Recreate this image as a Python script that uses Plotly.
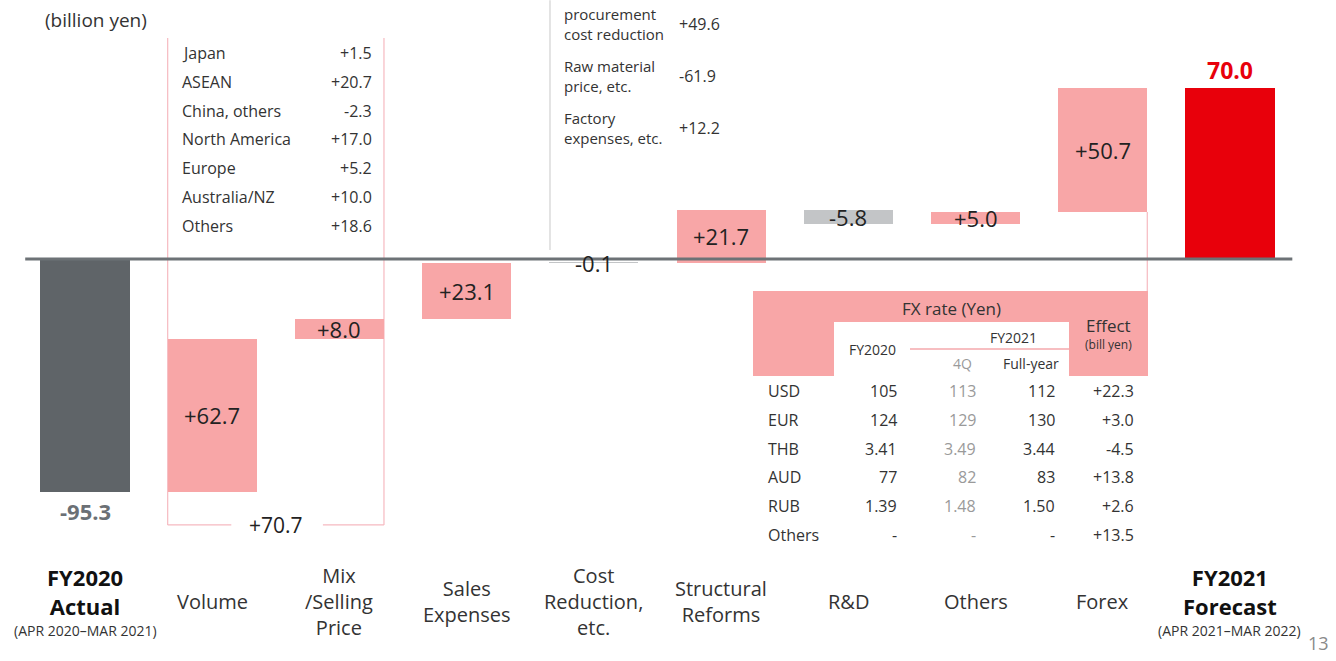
import plotly.graph_objects as go

# ---- data (billion yen) ----
categories = ["FY2020 Actual", "Volume", "Mix/Selling Price", "Sales Expenses",
              "Cost Reduction, etc.", "Structural Reforms", "R&D", "Others",
              "Forex", "FY2021 Forecast"]
axis_labels = ["", "Volume", "Mix<br>/Selling<br>Price", "Sales<br>Expenses",
               "Cost<br>Reduction,<br>etc.", "Structural<br>Reforms", "R&D",
               "Others", "Forex", ""]
values = [-95.3, 62.7, 8.0, 23.1, -0.1, 21.7, -5.8, 5.0, 50.7, 70.0]
measures = ["total"] + ["relative"] * 8 + ["total"]

region_names = ["Japan", "ASEAN", "China, others", "North America", "Europe",
                "Australia/NZ", "Others"]
region_values = ["+1.5", "+20.7", "-2.3", "+17.0", "+5.2", "+10.0", "+18.6"]
volume_mix_total = "+70.7"

cost_items = ["procurement<br>cost reduction", "Raw material<br>price, etc.",
              "Factory<br>expenses, etc."]
cost_values = ["+49.6", "-61.9", "+12.2"]

fx_currency = ["USD", "EUR", "THB", "AUD", "RUB", "Others"]
fx_fy2020 = ["105", "124", "3.41", "77", "1.39", "-"]
fx_fy2021_4q = ["113", "129", "3.49", "82", "1.48", "-"]
fx_fy2021_full = ["112", "130", "3.44", "83", "1.50", "-"]
fx_effect = ["+22.3", "+3.0", "-4.5", "+13.8", "+2.6", "+13.5"]

# ---- style ----
W, H = 1336, 661
FONT = "Open Sans"
DARK_GREY = "#5f6468"
LIGHT_GREY = "#c3c5c7"
PINK = "#f8a6a7"
RED = "#e8000b"
TEXT = "#333333"
BAR_W = 0.7


def px(x):
    return x / W


def py(y):
    return 1 - y / H


# ---- waterfall geometry from the values ----
bases, colors = [], []
running = 0.0
for v, m in zip(values, measures):
    if m == "total":
        bases.append(0.0)
        running = v
        colors.append(DARK_GREY if v < 0 else RED)
    else:
        bases.append(running)
        running += v
        colors.append(PINK if v >= 0 else LIGHT_GREY)

xs = list(range(len(categories)))

fig = go.Figure(go.Bar(
    x=xs, y=values, base=bases, width=BAR_W,
    marker=dict(color=colors, line=dict(width=0)),
    hovertext=categories, hoverinfo="text+y",
))

ann = []


def note(text, x, y, size=15, color=TEXT, xanchor="center", yanchor="middle",
         xref="paper", yref="paper", bold=False, align="center"):
    if bold:
        text = "<b>" + text + "</b>"
    ann.append(dict(text=text, x=x, y=y, xref=xref, yref=yref, xanchor=xanchor,
                    yanchor=yanchor, showarrow=False, align=align,
                    font=dict(family=FONT, size=size, color=color)))


# value labels on the bars
for i, (v, b, m) in enumerate(zip(values, bases, measures)):
    if m == "total":
        if v < 0:
            ann.append(dict(text=f"<b>{v:.1f}</b>", x=i, y=v, xref="x", yref="y",
                            yanchor="top", yshift=-2, showarrow=False,
                            font=dict(family=FONT, size=22, color="#6b7075")))
        else:
            ann.append(dict(text=f"<b>{v:.1f}</b>", x=i, y=v, xref="x", yref="y",
                            yanchor="bottom", yshift=0, showarrow=False,
                            font=dict(family=FONT, size=23, color=RED)))
    else:
        note(f"{v:+.1f}", i, b + v / 2, size=22, color="#222222",
             xref="x", yref="y")

shapes = []
# zero baseline
shapes.append(dict(type="line", xref="x", yref="y", x0=-0.47, x1=9.49, y0=0, y1=0,
                   line=dict(color="#6d7276", width=3), layer="above"))

# bracket around Volume + Mix
bl, br = 1 - BAR_W / 2, 2 + BAR_W / 2
bracket_top, bracket_bottom = 90.6, -109.0
bracket_line = dict(color="#f6b9c0", width=1.2)
shapes += [
    dict(type="line", xref="x", yref="y", x0=bl, x1=bl, y0=bracket_top, y1=bracket_bottom,
         line=bracket_line, layer="below"),
    dict(type="line", xref="x", yref="y", x0=br, x1=br, y0=bracket_top, y1=bracket_bottom,
         line=bracket_line, layer="below"),
    dict(type="line", xref="x", yref="y", x0=bl, x1=1.15, y0=bracket_bottom, y1=bracket_bottom,
         line=bracket_line),
    dict(type="line", xref="x", yref="y", x0=1.87, x1=br, y0=bracket_bottom, y1=bracket_bottom,
         line=bracket_line),
]
note(volume_mix_total, 1.5, bracket_bottom, size=21, color="#222222",
     xref="x", yref="y")

# region breakdown list
for k, (name, val) in enumerate(zip(region_names, region_values)):
    yy = py(53 + 28.8 * k)
    note(name, px(180), yy, size=16, xanchor="left")
    note(val, px(374), yy, size=16, xanchor="right")

# cost reduction breakdown
shapes.append(dict(type="line", xref="x", yref="y", x0=4 - 0.345, x1=4 - 0.345,
                   y0=106, y1=3.7, line=dict(color="#d2d2d2", width=1.2), layer="below"))
for k, (name, val) in enumerate(zip(cost_items, cost_values)):
    yy = py(24 + 52 * k)
    note(name, px(562), yy, size=15, xanchor="left", align="left")
    note(val, px(677), yy, size=16, xanchor="left")

# forex link line to FX table
fx_edge = 8 + BAR_W / 2
shapes.append(dict(type="line", xref="x", yref="y", x0=fx_edge, x1=fx_edge,
                   y0=bases[8], y1=-13.1, line=dict(color="#f6b9c0", width=1.2),
                   layer="below"))

# FX table header
shapes += [
    dict(type="rect", xref="paper", yref="paper", x0=px(753), x1=px(1148),
         y0=py(376), y1=py(291), fillcolor=PINK, line=dict(width=0), layer="below"),
    dict(type="rect", xref="paper", yref="paper", x0=px(834), x1=px(1069),
         y0=py(376), y1=py(322), fillcolor="white", line=dict(width=0), layer="below"),
    dict(type="line", xref="paper", yref="paper", x0=px(910), x1=px(1069),
         y0=py(349), y1=py(349), line=dict(color="#f5a8ad", width=1.5)),
]
note("FX rate (Yen)", px(951), py(308), size=17)
note("FY2020", px(872), py(350), size=14)
note("FY2021", px(1013), py(337), size=14)
note("4Q", px(962), py(363), size=14, color="#9a9a9a")
note("Full-year", px(1031), py(363), size=14)
note("Effect", px(1108), py(326), size=17)
note("(bill yen)", px(1108), py(344), size=12)

for k in range(len(fx_currency)):
    yy = py(391 + 28.8 * k)
    note(fx_currency[k], px(766), yy, size=16, xanchor="left")
    note(fx_fy2020[k], px(899), yy, size=16, xanchor="right")
    note(fx_fy2021_4q[k], px(978), yy, size=16, xanchor="right", color="#9a9a9a")
    note(fx_fy2021_full[k], px(1057), yy, size=16, xanchor="right")
    note(fx_effect[k], px(1136), yy, size=16, xanchor="right")

# category labels
for i, lab in enumerate(axis_labels):
    if lab:
        note(lab, i, py(601), size=20, xref="x")

for i, head, period in [(0, "FY2020<br>Actual", "(APR 2020–MAR 2021)"),
                        (9, "FY2021<br>Forecast", "(APR 2021–MAR 2022)")]:
    note(head, i, py(591), size=22, color="#111111", xref="x", bold=True)
    note(period, i, py(630), size=14, xref="x")

note("(billion yen)", px(96), py(20), size=19)
note("13", px(1318), py(643), size=18, color="#8a8a8a")

fig.update_layout(
    width=W, height=H,
    margin=dict(l=0, r=0, t=0, b=0),
    paper_bgcolor="white", plot_bgcolor="white",
    showlegend=False,
    xaxis=dict(range=[-85 / 127.22, (W - 85) / 127.22], visible=False, fixedrange=True),
    yaxis=dict(range=[-(H - 259) / 2.44, 259 / 2.44], visible=False, fixedrange=True),
    annotations=ann, shapes=shapes,
    bargap=0,
)

fig.write_html("out.html")
